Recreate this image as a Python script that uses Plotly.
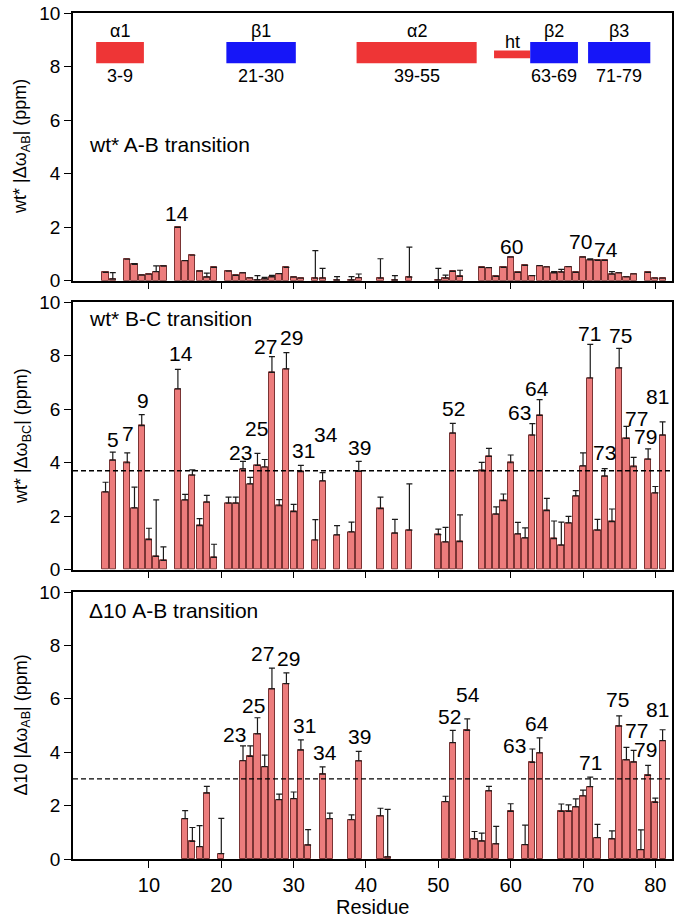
import plotly.graph_objects as go

# ---------------- data ----------------
# Panel 1: wt* A-B transition
res_ab = [4, 5, 7, 8, 9, 10, 11, 12, 14, 15, 16, 17, 18, 19, 21, 22, 23, 24, 25, 26, 27, 28, 29, 30, 31,
          33, 34, 36, 38, 39, 42, 44, 46, 50, 51, 52, 53, 56, 57, 58, 59, 60, 61, 62, 63, 64, 65, 66, 67,
          68, 69, 70, 71, 72, 73, 74, 75, 76, 77, 79, 80, 81]
val_ab = [0.31, 0.06, 0.80, 0.61, 0.21, 0.24, 0.34, 0.54, 1.99, 0.75, 0.95, 0.36, 0.13, 0.50, 0.36, 0.20,
          0.29, 0.10, 0.03, 0.07, 0.14, 0.26, 0.50, 0.13, 0.09, 0.09, 0.09, 0.02, 0.02, 0.11, 0.09, 0.02,
          0.13, 0.02, 0.09, 0.35, 0.16, 0.50, 0.49, 0.16, 0.50, 0.88, 0.31, 0.57, 0.19, 0.56, 0.51, 0.29,
          0.32, 0.52, 0.31, 0.88, 0.78, 0.76, 0.76, 0.24, 0.29, 0.14, 0.25, 0.31, 0.09, 0.09]
err_ab = [0.0, 0.24, 0.0, 0.03, 0.0, 0.0, 0.21, 0.01, 0.0, 0.0, 0.0, 0.0, 0.15, 0.0, 0.0, 0.0,
          0.0, 0.0, 0.16, 0.05, 0.06, 0.0, 0.0, 0.0, 0.0, 1.03, 0.37, 0.13, 0.13, 0.14, 0.73, 0.17,
          1.12, 0.44, 0.12, 0.0, 0.23, 0.0, 0.0, 0.0, 0.0, 0.0, 0.0, 0.0, 0.0, 0.0, 0.0, 0.05,
          0.10, 0.0, 0.0, 0.0, 0.04, 0.0, 0.0, 0.10, 0.0, 0.0, 0.0, 0.0, 0.0, 0.0]

# Panel 2: wt* B-C transition
res_bc = [4, 5, 7, 8, 9, 10, 11, 12, 14, 15, 16, 17, 18, 19, 21, 22, 23, 24, 25, 26, 27, 28, 29, 30, 31,
          33, 34, 36, 38, 39, 42, 44, 46, 50, 51, 52, 53, 56, 57, 58, 59, 60, 61, 62, 63, 64, 65, 66, 67,
          68, 69, 70, 71, 72, 73, 74, 75, 76, 77, 79, 80, 81]
val_bc = [2.91, 4.10, 4.00, 2.31, 5.39, 1.12, 0.50, 0.35, 6.76, 2.61, 3.54, 1.65, 2.53, 0.46, 2.49, 2.49,
          3.77, 3.21, 3.90, 3.84, 7.38, 2.39, 7.51, 2.17, 3.67, 1.11, 3.32, 1.30, 1.41, 3.68, 2.28, 1.37,
          1.48, 1.31, 1.04, 5.11, 1.05, 3.70, 4.24, 2.08, 2.58, 4.00, 1.34, 1.19, 5.03, 5.77, 2.21, 1.16,
          0.92, 1.75, 2.76, 3.88, 7.17, 1.48, 3.50, 1.80, 7.55, 4.91, 3.85, 4.13, 2.87, 5.03]
err_bc = [0.36, 0.30, 0.37, 0.78, 0.41, 0.43, 2.11, 0.50, 0.73, 0.21, 0.19, 0.26, 0.25, 0.49, 0.22, 0.22,
          0.28, 0.24, 0.45, 0.28, 0.59, 0.23, 0.61, 0.27, 0.23, 0.76, 0.31, 0.35, 0.37, 0.37, 0.43, 0.51,
          1.73, 0.21, 0.54, 0.36, 1.00, 0.31, 0.30, 0.27, 0.25, 0.29, 0.43, 0.37, 0.43, 0.59, 0.46, 0.66,
          0.86, 0.24, 0.20, 0.49, 1.26, 0.40, 0.28, 0.47, 0.73, 0.45, 0.35, 0.39, 0.24, 0.50]
cut_bc = 3.7

# Panel 3: Delta10 A-B transition
res_d10 = [15, 16, 17, 18, 20, 23, 24, 25, 26, 27, 28, 29, 30, 31, 32, 34, 35, 38, 39, 42, 43, 51, 52,
           54, 55, 56, 57, 58, 60, 62, 63, 64, 67, 68, 69, 70, 71, 72, 74, 75, 76, 77, 78, 79, 80, 81]
val_d10 = [1.51, 0.66, 0.46, 2.47, 0.20, 3.68, 3.84, 4.69, 3.46, 6.37, 2.22, 6.57, 2.26, 4.08, 0.52, 3.18,
           1.51, 1.47, 3.67, 1.61, 0.07, 2.15, 4.36, 4.82, 0.75, 0.67, 2.55, 0.57, 1.78, 0.54, 3.62, 3.97,
           1.78, 1.78, 1.95, 2.36, 2.71, 0.80, 0.75, 4.98, 3.71, 3.63, 0.35, 3.13, 2.12, 4.43]
err_d10 = [0.30, 0.52, 0.79, 0.25, 1.32, 0.56, 0.40, 0.60, 0.43, 0.78, 0.21, 0.40, 0.25, 0.38, 0.58, 0.27,
           0.21, 0.18, 0.36, 0.29, 1.79, 0.20, 0.46, 0.43, 0.28, 0.30, 0.17, 0.65, 0.29, 0.73, 0.50, 0.57,
           0.28, 0.25, 0.30, 0.22, 0.36, 0.50, 0.30, 0.38, 0.47, 0.44, 0.74, 0.38, 0.16, 0.41]
cut_d10 = 3.0

# Residue labels (text, residue position, ppm position)
lab1 = ["14", "60", "70", "74"]
lab1_x = [13.9, 60.1, 69.7, 73.2]
lab1_y = [2.50, 1.28, 1.46, 1.17]

lab2 = ["5", "7", "9", "14", "23", "25", "27", "29", "31", "34", "39", "52", "63", "64", "71", "73",
        "75", "77", "79", "81"]
lab2_x = [5.05, 7.1, 9.15, 14.36, 22.6, 24.9, 26.05, 29.72, 31.3, 34.5, 39.1, 52.05, 61.2, 63.7, 70.85,
          72.9, 75.2, 77.36, 78.6, 80.25]
lab2_y = [4.86, 5.11, 6.32, 8.07, 4.40, 5.27, 8.35, 8.67, 4.45, 5.05, 4.58, 6.02, 5.89, 6.77, 8.83,
          4.37, 8.77, 5.67, 4.99, 6.46]

lab3 = ["23", "25", "27", "29", "31", "34", "39", "52", "54", "63", "64", "71", "75", "77", "79", "81"]
lab3_x = [21.8, 24.45, 25.7, 29.35, 31.55, 34.3, 39.1, 51.6, 54.1, 60.5, 63.7, 71.07, 74.75, 77.36,
          78.6, 80.25]
lab3_y = [4.68, 5.75, 7.7, 7.50, 5.0, 3.99, 4.59, 5.34, 6.15, 4.26, 5.09, 3.6, 5.97, 4.82, 4.09, 5.59]

# Secondary structure elements
ss_name = ["\u03b11", "\u03b21", "\u03b12", "ht", "\u03b22", "\u03b23"]
ss_range = ["3-9", "21-30", "39-55", "", "63-69", "71-79"]
ss_start = [3, 21, 39, 58, 63, 71]
ss_end = [9, 30, 55, 62.4, 69, 79]
ss_type = ["helix", "strand", "helix", "turn", "strand", "strand"]

# ---------------- styling ----------------
FONT = "Liberation Sans, Arial, Helvetica, sans-serif"
BAR_FILL = "#EC7C7C"
BAR_EDGE = "#7A3434"
RED = "#EE3536"
BLUE = "#1616F8"

fig = go.Figure()

panels = [
    (res_ab, val_ab, err_ab, "y3", "x3"),
    (res_bc, val_bc, err_bc, "y2", "x2"),
    (res_d10, val_d10, err_d10, "y", "x"),
]
for r, v, e, ya, xa in panels:
    fig.add_trace(go.Bar(
        x=r, y=v, width=0.85, xaxis=xa, yaxis=ya,
        marker=dict(color=BAR_FILL, line=dict(color=BAR_EDGE, width=1)),
        error_y=dict(type="data", symmetric=False, array=e, arrayminus=[0] * len(e),
                     color="#1a1a1a", thickness=1.2, width=3),
        showlegend=False, hoverinfo="x+y",
    ))

xr = [-0.5, 82.3]
axis_common = dict(showline=True, linecolor="black", linewidth=1.5, mirror=True,
                   ticks="outside", ticklen=7, tickwidth=1.3, tickcolor="black",
                   showgrid=False, zeroline=False)

fig.update_layout(
    width=677, height=917,
    margin=dict(l=73, r=3, t=13, b=58),
    plot_bgcolor="white", paper_bgcolor="white",
    font=dict(family=FONT, size=19, color="black"),
    bargap=0,
    xaxis=dict(domain=[0, 1], range=xr, anchor="y", tickvals=[10, 20, 30, 40, 50, 60, 70, 80],
               tickfont=dict(size=20), **axis_common),
    yaxis=dict(domain=[0.0, 0.3156], range=[0, 10], dtick=2, anchor="x",
               tickfont=dict(size=19), **axis_common),
    xaxis2=dict(domain=[0, 1], range=xr, anchor="y2", tickvals=[10, 20, 30, 40, 50, 60, 70, 80],
                showticklabels=False, matches="x", **axis_common),
    yaxis2=dict(domain=[0.342, 0.658], range=[0, 10], dtick=2, anchor="x2",
                tickfont=dict(size=19), **axis_common),
    xaxis3=dict(domain=[0, 1], range=xr, anchor="y3", tickvals=[10, 20, 30, 40, 50, 60, 70, 80],
                showticklabels=False, matches="x", **axis_common),
    yaxis3=dict(domain=[0.6836, 1.0], range=[0, 10], dtick=2, anchor="x3",
                tickfont=dict(size=19), **axis_common),
)

# dashed cutoff lines
for cut, xa, ya in [(cut_bc, "x2", "y2"), (cut_d10, "x", "y")]:
    fig.add_shape(type="line", xref=xa + " domain", yref=ya, x0=0, x1=1, y0=cut, y1=cut,
                  line=dict(color="black", width=1.4, dash="5px,3px"))

# secondary structure bars
for name, rng, s, e, t in zip(ss_name, ss_range, ss_start, ss_end, ss_type):
    col = BLUE if t == "strand" else RED
    if t == "turn":
        y0, y1 = 8.31, 8.60
    else:
        y0, y1 = 8.12, 8.92
    fig.add_shape(type="rect", xref="x3", yref="y3", x0=s - 0.3, x1=e + 0.3, y0=y0, y1=y1,
                  fillcolor=col, line=dict(width=0))
    mid = (s + e) / 2
    if t == "turn":
        fig.add_annotation(x=mid, y=8.93, xref="x3", yref="y3", text=name, showarrow=False,
                           font=dict(size=18), xanchor="center", yanchor="middle")
    else:
        fig.add_annotation(x=mid, y=9.32, xref="x3", yref="y3", text=name, showarrow=False,
                           font=dict(size=18), xanchor="center", yanchor="middle")
        if rng:
            fig.add_annotation(x=mid, y=7.65, xref="x3", yref="y3", text=rng, showarrow=False,
                               font=dict(size=18), xanchor="center", yanchor="middle")

# residue labels
for texts, xs, ys, xa, ya in [(lab1, lab1_x, lab1_y, "x3", "y3"),
                              (lab2, lab2_x, lab2_y, "x2", "y2"),
                              (lab3, lab3_x, lab3_y, "x", "y")]:
    for t, x, y in zip(texts, xs, ys):
        fig.add_annotation(x=x, y=y, xref=xa, yref=ya, text=t, showarrow=False,
                           font=dict(size=21), xanchor="center", yanchor="middle")

# panel titles
for t, ya, xa, yy in [("wt* A-B transition", "y3", "x3", 0.507),
                      ("wt* B-C transition", "y2", "x2", 0.940),
                      ("\u039410 A-B transition", "y", "x", 0.930)]:
    fig.add_annotation(x=0.023, y=yy, xref=xa + " domain", yref=ya + " domain", text=t,
                       showarrow=False, font=dict(size=21), xanchor="left", yanchor="middle")

# y-axis titles
for t, ya in [("wt* |\u0394\u03c9<sub>AB</sub>| (ppm)", "y3"),
              ("wt* |\u0394\u03c9<sub>BC</sub>| (ppm)", "y2"),
              ("\u039410 |\u0394\u03c9<sub>AB</sub>| (ppm)", "y")]:
    fig.add_annotation(x=-0.085, y=0.5, xref="paper", yref=ya + " domain", text=t,
                       showarrow=False, textangle=-90, font=dict(size=18),
                       xanchor="center", yanchor="middle")

# x-axis title
fig.add_annotation(x=0.5, y=-0.057, xref="paper", yref="paper", text="Residue", showarrow=False,
                   font=dict(size=20), xanchor="center", yanchor="middle")

fig.write_html("out.html", config={"displayModeBar": False},
               post_script="document.body.style.margin='0';document.body.style.overflow='hidden';")
